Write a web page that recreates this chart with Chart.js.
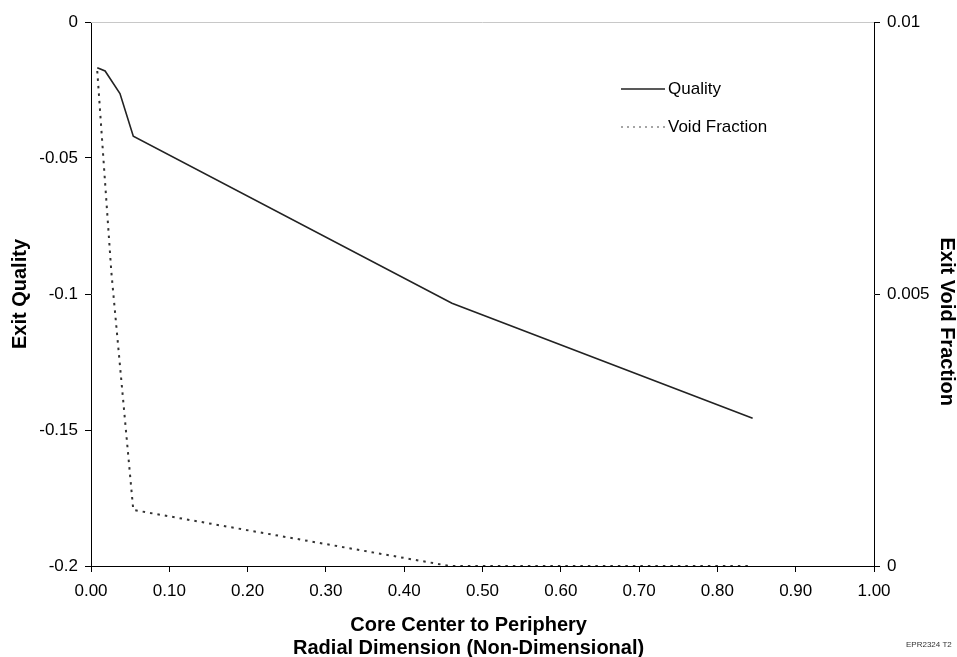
<!DOCTYPE html>
<html>
<head>
<meta charset="utf-8">
<script src="https://cdn.jsdelivr.net/npm/chart.js@4"></script>
<style>
  html, body { margin: 0; padding: 0; background: #fff; }
  #wrap { width: 957px; height: 657px; }
</style>
</head>
<body>
<div id="wrap"><canvas id="exit-chart" width="957" height="657"></canvas></div>
<script>
// data
var qualityX = [0.008, 0.018, 0.037, 0.054, 0.461, 0.845];
var qualityY = [-0.0168, -0.018, -0.0263, -0.042, -0.1034, -0.1457];
var voidX = [0.008, 0.026, 0.054, 0.458, 0.845];
var voidY = [0.0091, 0.0054, 0.00103, 0, 0];

var xTicks = [0, 0.1, 0.2, 0.3, 0.4, 0.5, 0.6, 0.7, 0.8, 0.9, 1.0];
var qualityTicks = ['0', '-0.05', '-0.1', '-0.15', '-0.2'];
var voidTicks = ['0', '0.005', '0.01'];

var FONT = "'Liberation Sans', Arial, sans-serif";

function toPoints(xs, ys) {
    return xs.map(function (x, i) { return { x: x, y: ys[i] }; });
}

// legend drawn inside the plot + the little figure code bottom right
var extras = {
    id: 'extras',
    afterDraw: function (chart) {
        var c = chart.ctx;
        c.save();
        c.lineWidth = 1.5;
        c.strokeStyle = '#222';
        c.beginPath(); c.moveTo(621, 89); c.lineTo(665, 89); c.stroke();
        c.strokeStyle = '#888';
        c.setLineDash([2, 4]);
        c.beginPath(); c.moveTo(621, 127); c.lineTo(665, 127); c.stroke();
        c.setLineDash([]);
        c.fillStyle = '#000';
        c.font = '17px ' + FONT;
        c.textBaseline = 'middle';
        c.fillText('Quality', 668, 89);
        c.fillText('Void Fraction', 668, 127);
        c.font = '8px ' + FONT;
        c.fillStyle = '#333';
        c.fillText('EPR2324 T2', 906, 645);
        // faint top frame
        var a = chart.chartArea;
        c.strokeStyle = '#c8c8c8';
        c.lineWidth = 1;
        c.beginPath(); c.moveTo(a.left, a.top + 0.5); c.lineTo(a.right, a.top + 0.5); c.stroke();
        c.restore();
    }
};

var ctx = document.getElementById('exit-chart').getContext('2d');
var chart = new Chart(ctx, {
    type: 'line',
    data: {
        datasets: [{
            label: 'Quality',
            data: toPoints(qualityX, qualityY),
            yAxisID: 'y',
            borderColor: '#222',
            borderWidth: 1.6,
            pointRadius: 0,
            tension: 0,
            fill: false
        }, {
            label: 'Void Fraction',
            data: toPoints(voidX, voidY),
            yAxisID: 'y2',
            borderColor: '#333',
            borderWidth: 2,
            borderDash: [2.5, 5],
            pointRadius: 0,
            tension: 0,
            fill: false
        }]
    },
    options: {
        responsive: false,
        animation: false,
        layout: { padding: { top: 22, left: 0, right: 0, bottom: 0 } },
        plugins: { legend: { display: false }, tooltip: { enabled: false } },
        scales: {
            x: {
                type: 'linear',
                min: 0, max: 1,
                afterBuildTicks: function (s) { s.ticks = xTicks.map(function (v) { return { value: v }; }); },
                afterFit: function (s) { s.height = 91; },
                border: { color: '#000', width: 1 },
                grid: { drawOnChartArea: false, tickLength: 6, color: '#000' },
                ticks: {
                    color: '#000', font: { family: FONT, size: 17 }, padding: 9, maxRotation: 0,
                    callback: function (v) { return v.toFixed(2); }
                },
                title: {
                    display: true,
                    // trailing spaces nudge the centred title a bit left, like the original
                    text: ['Core Center to Periphery     ', 'Radial Dimension (Non-Dimensional)     '],
                    color: '#000',
                    font: { family: FONT, size: 20, weight: 'bold', lineHeight: 1.15 },
                    padding: { top: 0, bottom: -2.5 }
                }
            },
            y: {
                type: 'linear', position: 'left',
                min: -0.2, max: 0,
                afterBuildTicks: function (s) { s.ticks = [0, -0.05, -0.1, -0.15, -0.2].map(function (v) { return { value: v }; }); },
                afterFit: function (s) { s.width = 91; },
                border: { color: '#000', width: 1 },
                grid: { drawOnChartArea: false, tickLength: 6, color: '#000' },
                ticks: {
                    color: '#000', font: { family: FONT, size: 17 }, padding: 7,
                    callback: function (v, i) { return qualityTicks[i]; }
                },
                title: {
                    display: true, text: 'Exit Quality', color: '#000',
                    font: { family: FONT, size: 20, weight: 'bold', lineHeight: 1.2 },
                    padding: { top: 8, bottom: 0 }
                }
            },
            y2: {
                type: 'linear', position: 'right',
                min: 0, max: 0.01,
                afterBuildTicks: function (s) { s.ticks = [0, 0.005, 0.01].map(function (v) { return { value: v }; }); },
                afterFit: function (s) { s.width = 83; },
                border: { color: '#000', width: 1 },
                grid: { drawOnChartArea: false, tickLength: 6, color: '#000' },
                ticks: {
                    color: '#000', font: { family: FONT, size: 17 }, padding: 7,
                    callback: function (v, i) { return voidTicks[i]; }
                },
                title: {
                    display: true,
                    // leading spaces push it down the axis as in the original
                    text: '          Exit Void Fraction', color: '#000',
                    font: { family: FONT, size: 20, weight: 'bold', lineHeight: 1.2 },
                    padding: { top: -2, bottom: 0 }
                }
            }
        }
    },
    plugins: [extras]
});
</script>
</body>
</html>
